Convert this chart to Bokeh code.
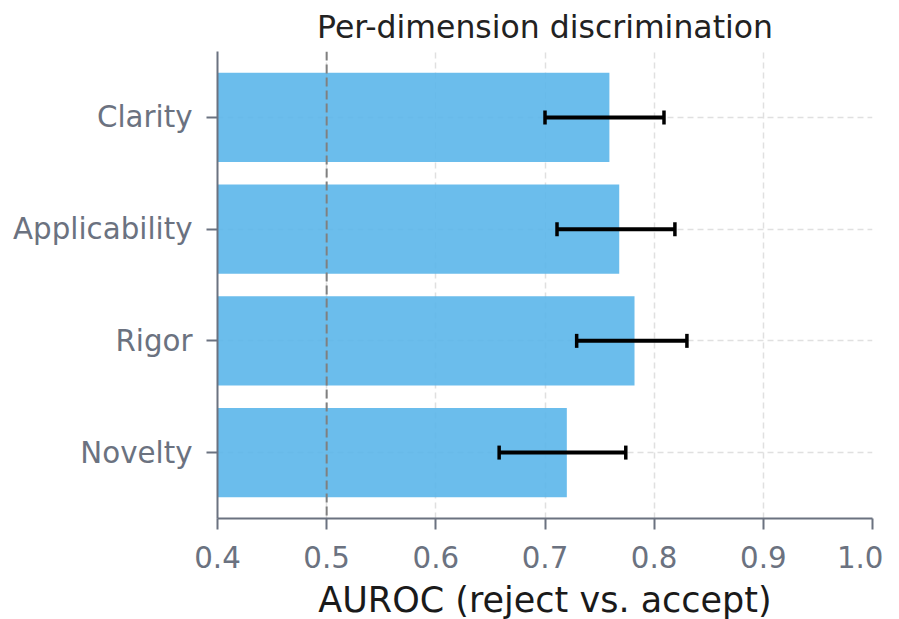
from bokeh.plotting import figure
from bokeh.models import (ColumnDataSource, FactorRange, Range1d, FixedTicker,
                          Whisker, TeeHead, Span, PrintfTickFormatter)
from bokeh.embed import file_html
from bokeh.resources import INLINE

# ---- data ----
dimensions = ["Novelty", "Rigor", "Applicability", "Clarity"]
auroc = [0.720, 0.782, 0.768, 0.759]
ci_low = [0.658, 0.729, 0.711, 0.700]
ci_high = [0.774, 0.830, 0.819, 0.809]
x_ticks = [0.4, 0.5, 0.6, 0.7, 0.8, 0.9, 1.0]
chance_level = 0.5

src = ColumnDataSource(dict(dim=dimensions, auroc=auroc, lo=ci_low, hi=ci_high))

FONT = "DejaVu Sans"
AXIS_GRAY = "#6b7280"

p = figure(
    y_range=FactorRange(*dimensions, range_padding=0.045, range_padding_units="percent"),
    x_range=Range1d(0.4, 1.0),
    frame_width=655, frame_height=467,
    min_border_left=217, min_border_top=50, min_border_right=11, min_border_bottom=100,
    output_backend="svg", toolbar_location=None,
    title="Per-dimension discrimination",
)

p.hbar(y="dim", right="auroc", left=0.4, height=0.8, source=src,
       fill_color="#56B4E9", fill_alpha=0.88, line_color=None)

p.add_layout(Span(location=chance_level, dimension="height", line_color="#808080",
                  line_width=2, line_dash="9 4"))

w = Whisker(source=src, base="dim", lower="lo", upper="hi", dimension="width",
            line_color="black", line_width=4, level="overlay",
            upper_head=TeeHead(size=14, line_width=3.5, line_color="black"),
            lower_head=TeeHead(size=14, line_width=3.5, line_color="black"))
p.add_layout(w)

# title
p.title.text_font = FONT
p.title.text_font_size = "31.5px"
p.title.text_font_style = "normal"
p.title.text_color = "#222222"
p.title.align = "center"
p.title.standoff = 13

# axes
p.xaxis.ticker = FixedTicker(ticks=x_ticks)
p.xaxis.formatter = PrintfTickFormatter(format="%.1f")
p.xaxis.axis_label = "AUROC (reject vs. accept)"
for ax in (p.xaxis[0], p.yaxis[0]):
    ax.axis_line_color = AXIS_GRAY
    ax.axis_line_width = 2
    ax.major_tick_line_color = AXIS_GRAY
    ax.major_tick_line_width = 2
    ax.major_tick_out = 11
    ax.major_tick_in = 0
    ax.minor_tick_line_color = None
    ax.major_label_text_font = FONT
    ax.major_label_text_font_size = "29.3px"
    ax.major_label_text_color = AXIS_GRAY
p.xaxis.axis_label_text_font = FONT
p.xaxis.axis_label_text_font_size = "35px"
p.xaxis.axis_label_text_font_style = "normal"
p.xaxis.axis_label_text_color = "#1a1a1a"
p.xaxis.major_label_standoff = 16
p.xaxis.axis_label_standoff = 9
p.yaxis.major_label_standoff = 14

# grid
p.xgrid.grid_line_color = "#e0e0e0"
p.xgrid.grid_line_width = 1.5
p.xgrid.grid_line_dash = "6 4"
p.ygrid.grid_line_color = "#e0e0e0"
p.ygrid.grid_line_width = 1.5
p.ygrid.grid_line_dash = "6 4"

p.outline_line_color = None
p.background_fill_color = "white"
p.border_fill_color = "white"

open("out.html", "w").write(file_html(p, INLINE))
